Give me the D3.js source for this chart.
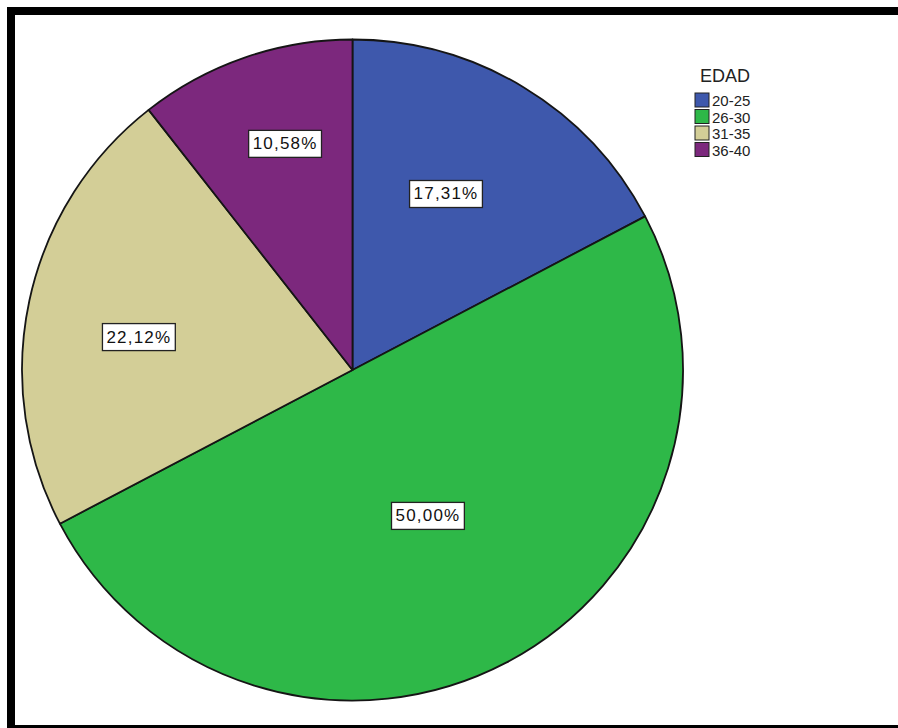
<!DOCTYPE html>
<html>
<head>
<meta charset="utf-8">
<script src="https://cdn.jsdelivr.net/npm/d3@7"></script>
<style>
  html, body { margin: 0; padding: 0; background: #fff; overflow: hidden; width: 898px; height: 728px; }
  svg { display: block; font-family: "Liberation Sans", Arial, sans-serif; }
</style>
</head>
<body>
<svg id="chart" width="898" height="728" viewBox="0 0 898 728"></svg>
<script>
// Age groups and their share of respondents (%)
const categories = ["20-25", "26-30", "31-35", "36-40"];
const shares = [17.31, 50.00, 22.12, 10.58];
const sliceColors = ["#3E58AC", "#2EB848", "#D3CE97", "#7C287D"];
const legendTitle = "EDAD";
// placement of each percentage box: fraction of the radius, and fraction across the slice's angle
const labelRadiusFrac = [0.603, 0.497, 0.654, 0.714];
const labelAngleFrac = [0.449, 0.502, 0.458, 0.564];

const svg = d3.select("#chart");

svg.append("rect")
  .attr("x", 0).attr("y", 0)
  .attr("width", 898).attr("height", 728)
  .attr("fill", "#fff");

// outer frame: top, left and bottom edges; it runs off the right side of the view
const frame = d3.path();
frame.moveTo(898, 11);
frame.lineTo(11, 11);
frame.lineTo(11, 729);
frame.lineTo(898, 729);
svg.append("path")
  .attr("d", frame.toString())
  .attr("fill", "none")
  .attr("stroke", "#000")
  .attr("stroke-width", 8)
  .attr("stroke-linecap", "butt");

const cx = 352.5, cy = 370, R = 330.5;

const data = categories.map((c, i) => ({
  cat: c, value: shares[i], color: sliceColors[i],
  lr: labelRadiusFrac[i], la: labelAngleFrac[i]
}));

const pie = d3.pie().value(d => d.value).sort(null);
const arcs = pie(data);
const arc = d3.arc().innerRadius(0).outerRadius(R);

const g = svg.append("g").attr("transform", `translate(${cx},${cy})`);

g.selectAll("path.slice")
  .data(arcs)
  .join("path")
  .attr("class", "slice")
  .attr("d", arc)
  .attr("fill", d => d.data.color)
  .attr("stroke", "#151515")
  .attr("stroke-width", 1.8)
  .attr("stroke-linejoin", "round");

// percentage labels in boxed callouts
const fmt = v => v.toFixed(2).replace(".", ",") + "%";
const labels = g.selectAll("g.lbl")
  .data(arcs)
  .join("g")
  .attr("class", "lbl")
  .attr("transform", d => {
    const a = d.startAngle + (d.endAngle - d.startAngle) * d.data.la;
    const r = R * d.data.lr;
    return `translate(${r * Math.sin(a)},${-r * Math.cos(a)})`;
  });

labels.each(function(d) {
  const sel = d3.select(this);
  const t = sel.append("text")
    .attr("text-anchor", "middle")
    .attr("dominant-baseline", "central")
    .attr("font-size", 17)
    .attr("letter-spacing", 1.2)
    .attr("fill", "#111")
    .text(fmt(d.data.value));
  const bb = t.node().getBBox();
  sel.insert("rect", "text")
    .attr("x", bb.x - 4)
    .attr("y", -13.5)
    .attr("width", bb.width + 8)
    .attr("height", 27)
    .attr("fill", "#fff")
    .attr("stroke", "#222")
    .attr("stroke-width", 1.3);
});

// legend
const lg = svg.append("g").attr("transform", "translate(695,0)");
lg.append("text")
  .attr("x", 5).attr("y", 82)
  .attr("font-size", 18)
  .attr("fill", "#222")
  .text(legendTitle);

const rowY = d3.scaleBand().domain(categories).range([92, 158]);
const items = lg.selectAll("g.item")
  .data(data)
  .join("g")
  .attr("class", "item")
  .attr("transform", d => `translate(0,${rowY(d.cat)})`);
items.append("rect")
  .attr("x", 0).attr("y", 1)
  .attr("width", 14).attr("height", 14)
  .attr("fill", d => d.color)
  .attr("stroke", "#222")
  .attr("stroke-width", 1);
items.append("text")
  .attr("x", 17).attr("y", 8.5)
  .attr("dominant-baseline", "central")
  .attr("font-size", 15)
  .attr("fill", "#222")
  .text(d => d.cat);
</script>
</body>
</html>
